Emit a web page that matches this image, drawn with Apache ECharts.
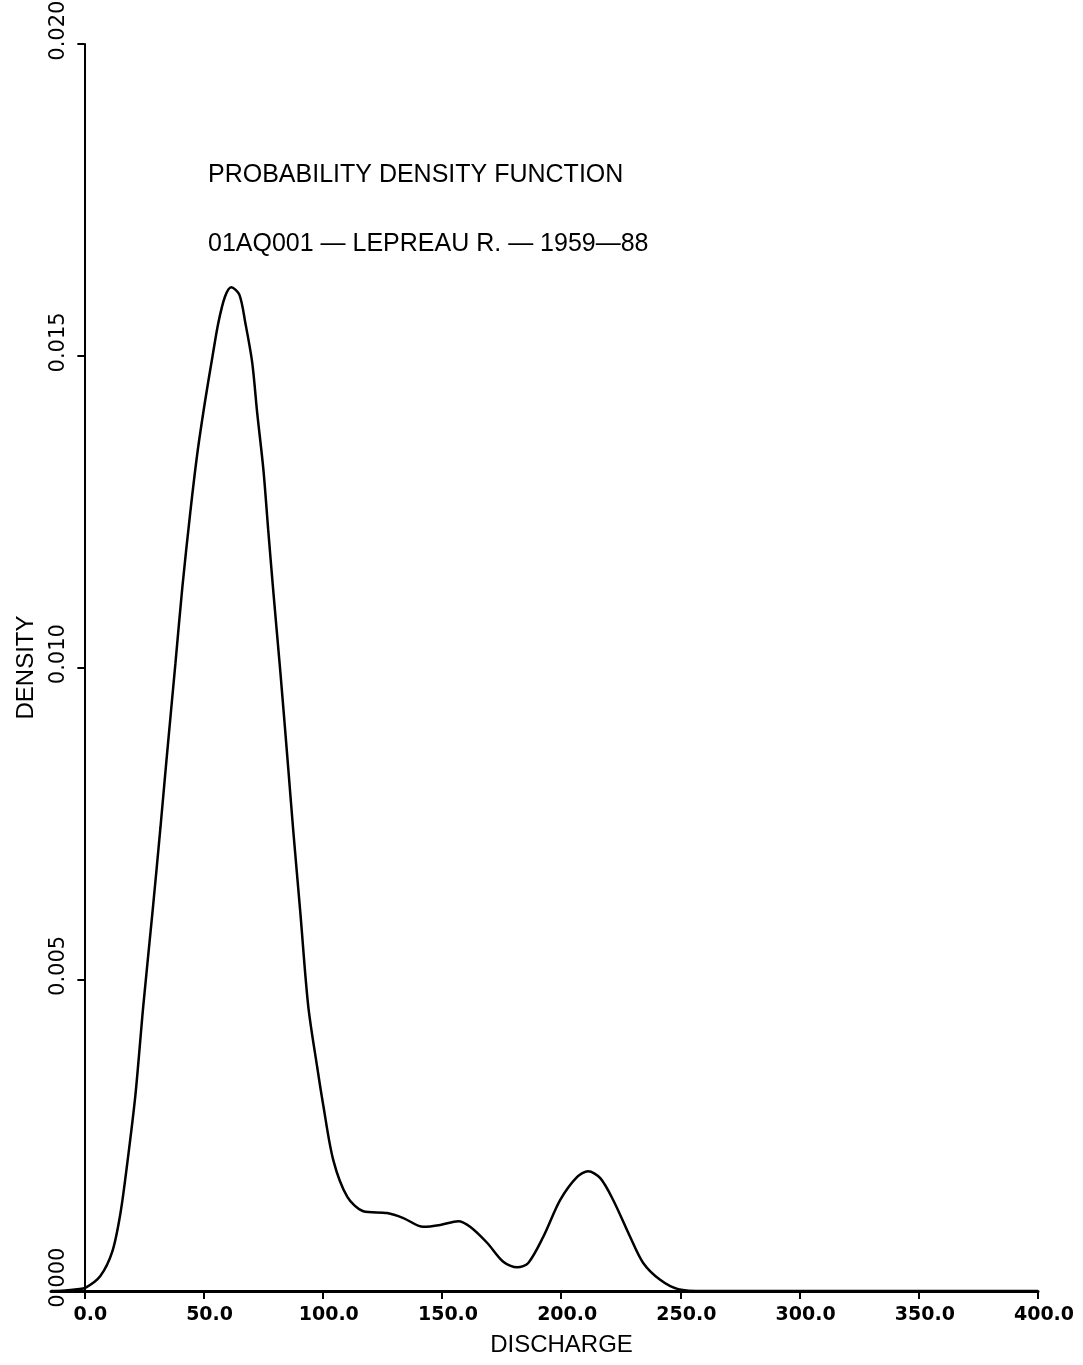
<!DOCTYPE html>
<html>
<head>
<meta charset="utf-8">
<script src="https://cdn.jsdelivr.net/npm/echarts@6/dist/echarts.min.js"></script>
<style>html,body{margin:0;padding:0;background:#fff}#c{width:1083px;height:1365px}</style>
</head>
<body>
<div id="c"></div>
<script>
const titleLines = ['PROBABILITY DENSITY FUNCTION', '01AQ001 \u2014 LEPREAU R. \u2014 1959\u201488'];
const xName = 'DISCHARGE';
const yName = 'DENSITY';
const xTicks = [0, 50, 100, 150, 200, 250, 300, 350, 400];
const yTicks = [0, 0.005, 0.010, 0.015, 0.020];
const discharge = [-14, -8, -3, 0.4, 6.7, 11.7, 15.1, 18.0, 21.4, 24.7, 28.5, 31.9, 34.4, 38.2, 41.1, 44.4, 47.4, 50.7, 53.7, 56.2, 59.0, 61.6, 65.0, 67.5, 70.4, 72.5, 75.1, 77.1, 79.2, 82.2, 85.5, 87.6, 90.6, 93.9, 97.7, 100.2, 104.4, 110.3, 117.0, 127.0, 133.8, 142.1, 149.3, 156.8, 161.8, 169.0, 175.7, 181.6, 186.2, 192.5, 199.6, 206.7, 211.3, 216.4, 221.8, 228.9, 234.4, 241.5, 249.1, 260, 300, 350, 400];
const density = [0, 0.00001, 0.00003, 0.00005, 0.00024, 0.00063, 0.00124, 0.00205, 0.00314, 0.00457, 0.00605, 0.00743, 0.00850, 0.01007, 0.01129, 0.01248, 0.01344, 0.01429, 0.01498, 0.01553, 0.01595, 0.01610, 0.01598, 0.01553, 0.01489, 0.01408, 0.01317, 0.01221, 0.01124, 0.00993, 0.00839, 0.00739, 0.00606, 0.00457, 0.00358, 0.00298, 0.00210, 0.00151, 0.00128, 0.00125, 0.00117, 0.00103, 0.00106, 0.00112, 0.00103, 0.00077, 0.00047, 0.00038, 0.00045, 0.00087, 0.00146, 0.00183, 0.00192, 0.00181, 0.00146, 0.00087, 0.00045, 0.00018, 0.00003, 0, 0, 0, 0];

const chart = echarts.init(document.getElementById('c'), null, {renderer: 'canvas'});
const points = discharge.map((d, i) => [d, density[i]]);
chart.setOption({
  animation: false,
  backgroundColor: '#fff',
  title: [
    {text: titleLines[0], left: 203, top: 158, textStyle: {fontFamily: 'Liberation Sans', fontSize: 25, fontWeight: 'normal', color: '#000'}},
    {text: titleLines[1], left: 203, top: 227, textStyle: {fontFamily: 'Liberation Sans', fontSize: 25, fontWeight: 'normal', color: '#000'}}
  ],
  grid: {left: 51, right: 45, top: 44, bottom: 74, containLabel: false, outerBoundsMode: 'none'},
  xAxis: {
    type: 'value', min: -14, max: 400,
    name: xName, nameLocation: 'middle', nameGap: 42, nameMoveOverlap: false,
    nameTextStyle: {fontFamily: 'Liberation Sans', fontSize: 24, color: '#000', padding: [0, 0, 0, 34]},
    axisLine: {show: true, onZero: false, lineStyle: {color: '#000', width: 3}},
    axisTick: {show: true, customValues: xTicks, length: 8, lineStyle: {color: '#000', width: 2}},
    axisLabel: {customValues: xTicks, formatter: v => v.toFixed(1), fontFamily: 'DejaVu Sans', fontWeight: 'bold', fontSize: 19, color: '#000', margin: 15, padding: [0, 0, 0, 12]},
    splitLine: {show: false}
  },
  yAxis: {
    type: 'value', min: 0, max: 0.02, interval: 0.005,
    name: yName, nameLocation: 'middle', nameGap: 13, nameMoveOverlap: false,
    nameTextStyle: {fontFamily: 'Liberation Sans', fontSize: 24, color: '#000'},
    axisLine: {show: true, onZero: true, lineStyle: {color: '#000', width: 2}},
    axisTick: {show: true, length: 7, lineStyle: {color: '#000', width: 2}},
    axisLabel: {rotate: 90, formatter: v => '    ' + v.toFixed(3), fontFamily: 'DejaVu Sans', fontSize: 21, color: '#000', margin: -18},
    splitLine: {show: false}
  },
  series: [{
    type: 'line', data: points, smooth: 0.3, showSymbol: false,
    lineStyle: {color: '#000', width: 2.5}
  }]
});
</script>
</body>
</html>
